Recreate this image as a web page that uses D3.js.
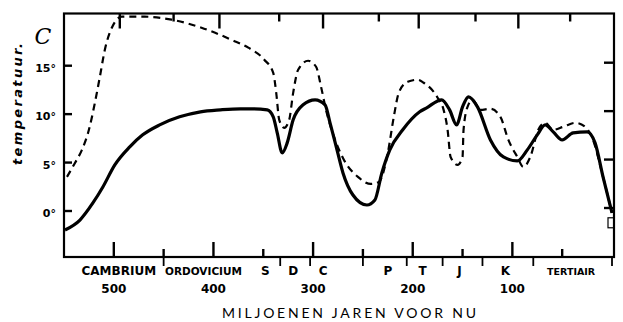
<!DOCTYPE html>
<html>
<head>
<meta charset="utf-8">
<script src="https://cdn.jsdelivr.net/npm/d3@7"></script>
<style>
  html, body { margin: 0; padding: 0; background: #fff; }
  svg { display: block; }
</style>
</head>
<body>
<div id="chart"></div>
<script>
// ages in millions of years before present, temperatures in degrees C
const solidAge  = [549, 534, 521, 511, 499, 484, 471, 454, 434, 413, 393, 373, 363, 346, 340, 336, 331, 326, 320, 310, 298, 288, 283, 276, 270, 260, 246, 238, 231, 223, 210, 193, 186, 171, 163, 156, 150, 144, 135, 122, 109, 95, 85, 75, 67, 59, 50, 39, 25, 17, 9, 0];
const solidTemp = [-1.96, -0.93, 0.83, 2.48, 4.76, 6.62, 7.86, 8.89, 9.72, 10.24, 10.44, 10.55, 10.55, 10.44, 9.72, 8.07, 6.0, 7.03, 9.41, 10.96, 11.48, 10.96, 9.1, 6.31, 3.93, 1.65, 0.62, 1.14, 3.93, 6.31, 8.38, 10.24, 10.65, 11.48, 10.44, 8.89, 10.75, 11.79, 10.75, 7.34, 5.58, 5.17, 6.31, 7.86, 8.89, 8.17, 7.34, 8.07, 8.17, 7.03, 3.52, -0.2];

const dashAge  = [547, 539, 532, 525, 519, 514, 509, 502, 492, 469, 442, 412, 382, 365, 349, 340, 337, 334, 329, 324, 320, 315, 305, 297, 292, 287, 279, 269, 255, 242, 234, 225, 219, 214, 205, 195, 189, 175, 169, 165, 162, 155, 150, 149, 145, 140, 132, 122, 112, 104, 95, 89, 82, 74, 67, 59, 49, 37, 27, 19, 10, 0];
const dashTemp = [3.52, 4.96, 6.31, 8.38, 11.17, 13.86, 16.65, 18.92, 20.06, 20.06, 19.75, 18.92, 17.68, 16.86, 15.62, 14.27, 12.2, 9.41, 8.58, 9.41, 12.2, 14.58, 15.51, 14.89, 12.82, 10.44, 7.65, 5.27, 3.52, 2.79, 3.0, 6.0, 9.72, 12.2, 13.34, 13.55, 13.24, 11.69, 10.44, 8.38, 5.58, 4.76, 5.58, 8.38, 10.75, 11.48, 10.44, 10.55, 9.72, 7.34, 5.58, 4.55, 5.58, 8.38, 9.1, 8.38, 8.69, 9.1, 8.69, 7.34, 3.93, -0.2];

const tempTicks  = [0, 5, 10, 15];
const tempLabels = ["0°", "5°", "10°", "15°"];
const ageMajor   = [500, 400, 300, 200, 100];
const ageMinor   = [450, 350, 250, 150, 50];
const topTicks   = [494, 440, 394, 334, 290, 234, 194, 137, 94, 42];

const periods      = ["CAMBRIUM", "ORDOVICIUM", "S", "D", "C", "P", "T", "J", "K", "TERTIAIR"];
const periodMid    = [495, 410, 348, 320, 290, 225, 190, 153, 107, 41];
const periodBounds = [450, 333, 303, 250, 206, 170, 130, 79, 0];

const W = 623, H = 322;
const fLeft = 64, fRight = 614, fTop = 13.5, fBottom = 257;

const x = d3.scaleLinear().domain([550, 0]).range([64, 612]);
const y = d3.scaleLinear().domain([0, 15]).range([211, 65.7]);

const svg = d3.select("#chart").append("svg")
  .attr("width", W)
  .attr("height", H)
  .attr("font-family", "'DejaVu Sans', sans-serif");

// frame
svg.append("rect")
  .attr("x", fLeft).attr("y", fTop)
  .attr("width", fRight - fLeft).attr("height", fBottom - fTop)
  .attr("fill", "none").attr("stroke", "#000").attr("stroke-width", 2.2);

const ticks = svg.append("g")
  .attr("stroke", "#000")
  .attr("stroke-width", 2.4)
  .attr("fill", "none");

// left ticks and right ticks, both pointing inward
tempTicks.forEach(t => {
  ticks.append("path").attr("d", `M${fLeft},${y(t)}h8`);
  ticks.append("path").attr("d", `M${fRight},${y(t) - 3}h-10`);
});

// bottom ticks, long ones at the labelled ages
ageMajor.forEach(a => ticks.append("path").attr("d", `M${x(a)},${fBottom}v-15`));
ageMinor.forEach(a => ticks.append("path").attr("d", `M${x(a)},${fBottom}v-8`));

// top ticks
topTicks.forEach((a, i) => ticks.append("path").attr("d", `M${x(a)},${fTop}v${i % 2 ? 8 : 15}`));

// period separators below axis
periodBounds.forEach(a => ticks.append("path")
  .attr("stroke-width", 1.8)
  .attr("d", `M${x(a)},${fBottom}v9`));

const periodSize = { "CAMBRIUM": 12, "ORDOVICIUM": 10.5, "TERTIAIR": 9.5 };
svg.selectAll("text.pl").data(periods).join("text")
  .attr("class", "pl")
  .attr("x", (d, i) => x(periodMid[i]))
  .attr("y", 275)
  .attr("text-anchor", "middle")
  .attr("font-weight", "bold")
  .attr("font-size", d => periodSize[d] || 12)
  .text(d => d);

// age labels
svg.selectAll("text.al").data(ageMajor).join("text")
  .attr("class", "al")
  .attr("x", d => x(d))
  .attr("y", 293)
  .attr("text-anchor", "middle")
  .attr("font-weight", "bold")
  .attr("font-size", 12)
  .text(d => d);

svg.append("text")
  .attr("x", 349).attr("y", 318)
  .attr("text-anchor", "middle")
  .attr("font-family", "Lato, sans-serif")
  .attr("font-size", 14)
  .attr("textLength", 254)
  .text("MILJOENEN JAREN VOOR NU");

// temperature labels
svg.selectAll("text.tl").data(tempTicks).join("text")
  .attr("class", "tl")
  .attr("x", 56)
  .attr("y", d => y(d) + 6)
  .attr("text-anchor", "end")
  .attr("font-weight", "bold")
  .attr("font-size", 11)
  .text((d, i) => tempLabels[i]);

svg.append("text")
  .attr("x", 43).attr("y", 44)
  .attr("text-anchor", "middle")
  .attr("font-family", "'DejaVu Serif', serif")
  .attr("font-style", "italic")
  .attr("font-size", 22)
  .text("C");

svg.append("text")
  .attr("transform", "translate(22,104) rotate(-90)")
  .attr("text-anchor", "middle")
  .attr("font-weight", "bold")
  .attr("font-style", "italic")
  .attr("font-size", 13)
  .attr("textLength", 122)
  .text("temperatuur.");

// curves
const curve = d3.line()
  .x(d => x(d[0]))
  .y(d => y(d[1]))
  .curve(d3.curveMonotoneX);

svg.append("path")
  .datum(dashAge.map((a, i) => [a, dashTemp[i]]))
  .attr("d", curve)
  .attr("fill", "none")
  .attr("stroke", "#000")
  .attr("stroke-width", 2.2)
  .attr("stroke-dasharray", "7,5");

svg.append("path")
  .datum(solidAge.map((a, i) => [a, solidTemp[i]]))
  .attr("d", curve)
  .attr("fill", "none")
  .attr("stroke", "#000")
  .attr("stroke-width", 3.2);

// present-day marker
svg.append("rect")
  .attr("x", x(0) - 4).attr("y", y(-0.7))
  .attr("width", 6).attr("height", 10)
  .attr("fill", "none").attr("stroke", "#000").attr("stroke-width", 1.2);
</script>
</body>
</html>
